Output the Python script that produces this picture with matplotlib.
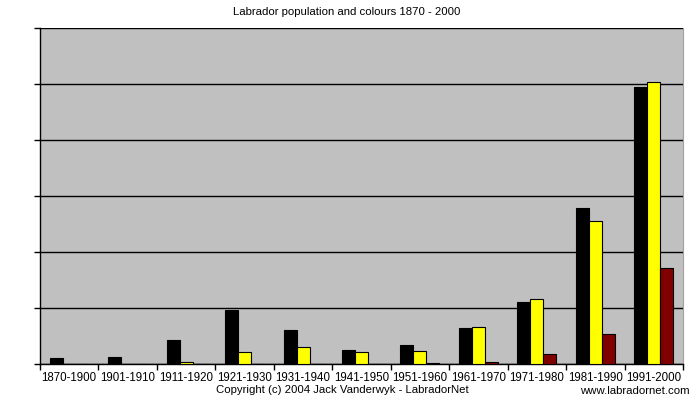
import numpy as np
import matplotlib.pyplot as plt

plt.rcParams['font.family'] = ['Liberation Sans', 'DejaVu Sans']

decades = ['1870-1900', '1901-1910', '1911-1920', '1921-1930', '1931-1940',
           '1941-1950', '1951-1960', '1961-1970', '1971-1980', '1981-1990',
           '1991-2000']
black = [0.11, 0.13, 0.43, 0.96, 0.61, 0.25, 0.34, 0.64, 1.11, 2.79, 4.95]
yellow = [0.0, 0.0, 0.04, 0.21, 0.30, 0.21, 0.23, 0.66, 1.16, 2.55, 5.03]
liver = [0.0, 0.0, 0.0, 0.0, 0.0, 0.0, 0.02, 0.04, 0.18, 0.54, 1.71]

fig = plt.figure(figsize=(6.93, 3.97), dpi=100)
ax = fig.add_axes([40 / 693, 33 / 397, 643 / 693, 336 / 397])
ax.set_facecolor('#c0c0c0')

x = np.arange(len(decades))
w = 0.222
for off, vals, col in [(-w, black, '#000000'), (0, yellow, '#ffff00'), (w, liver, '#800000')]:
    ax.bar(x + off, vals, width=w, color=col, edgecolor='black', linewidth=0.8, zorder=3)

ax.set_xlim(-0.5, len(decades) - 0.5)
ax.set_ylim(0, 6)
ax.set_yticks(np.arange(0, 7))
ax.set_yticklabels([])
ax.yaxis.grid(True, color='black', linewidth=1, zorder=1)
ax.set_xticks(np.arange(-0.5, len(decades), 1))
ax.set_xticklabels([])
ax.set_xticks(x, minor=True)
ax.set_xticklabels(decades, minor=True, fontsize=8.3)
ax.tick_params(axis='x', which='minor', length=0, pad=6)
ax.tick_params(axis='x', which='major', length=4, width=1, direction='out')
ax.tick_params(axis='y', length=4, width=1, direction='out')

ax.spines['top'].set_visible(False)
ax.spines['right'].set_color('#a0a0a0')
ax.spines['left'].set_linewidth(1)
ax.spines['bottom'].set_linewidth(1)

fig.text(0.5, 1 - 12 / 397, 'Labrador population and colours 1870 - 2000',
         ha='center', va='center', fontsize=8.2)
fig.text(342 / 693, 1 - 390 / 397, 'Copyright (c) 2004 Jack Vanderwyk - LabradorNet',
         ha='center', va='center', fontsize=8.2)
fig.text(690 / 693, 1 - 391 / 397, 'www.labradornet.com',
         ha='right', va='center', fontsize=8.2)

fig.savefig('out.png', dpi=100)
